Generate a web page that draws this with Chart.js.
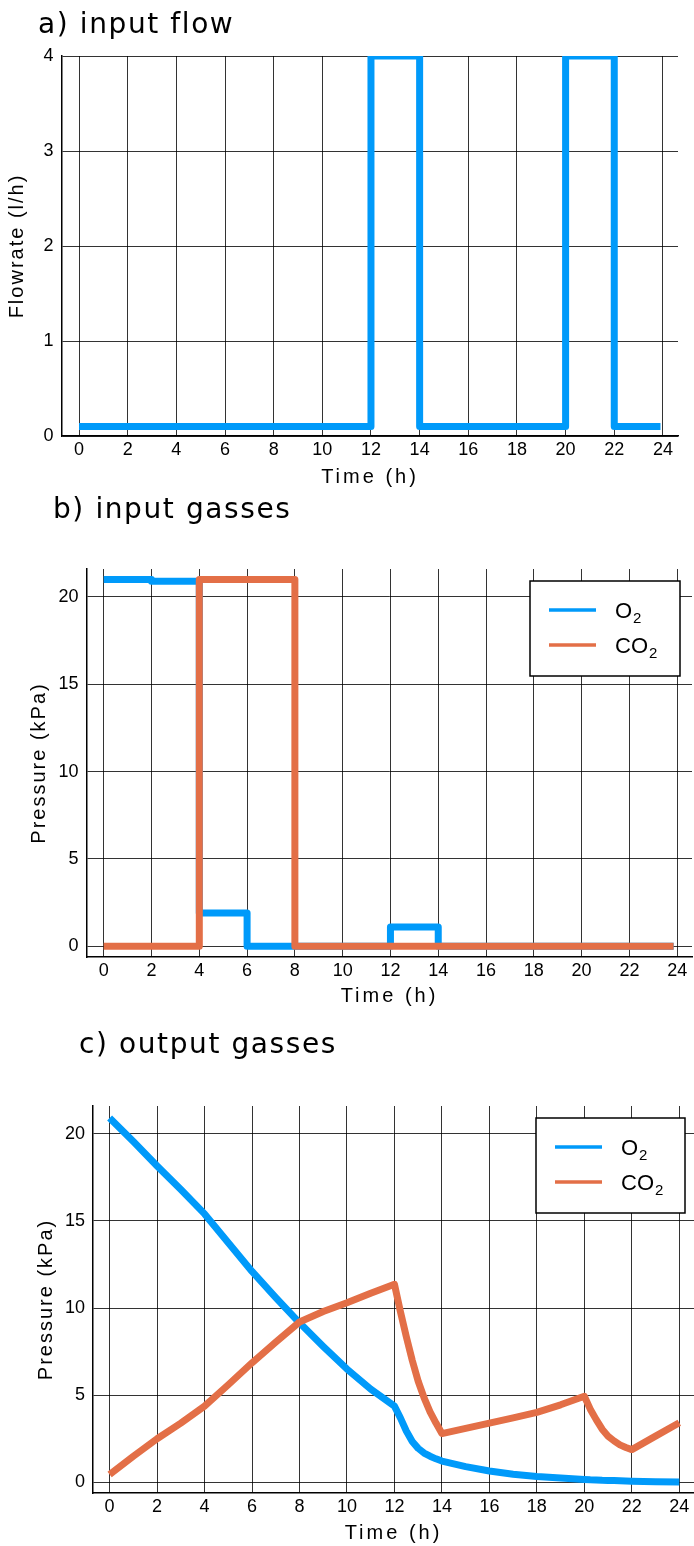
<!DOCTYPE html>
<html>
<head>
<meta charset="utf-8">
<script src="https://cdn.jsdelivr.net/npm/chart.js@4.4.1/dist/chart.umd.min.js"></script>
<style>
  html, body { margin: 0; padding: 0; background: #fff; }
  #page { position: relative; width: 694px; height: 1546px; overflow: hidden; }
  #page canvas { position: absolute; left: 0; }
  .panel-title {
    position: absolute; z-index: 2; color: #000; white-space: nowrap;
    font-family: 'DejaVu Sans'; font-size: 28px; line-height: 28px; letter-spacing: 1.6px;
  }
</style>
</head>
<body>
<div id="page">
  <canvas id="flowChart" width="694" height="500" style="top:0"></canvas>
  <canvas id="inputChart" width="694" height="520" style="top:500px"></canvas>
  <canvas id="outputChart" width="694" height="526" style="top:1020px"></canvas>
  <div class="panel-title" style="left:38px;top:9.6px">a) input flow</div>
  <div class="panel-title" style="left:53px;top:494.6px">b) input gasses</div>
  <div class="panel-title" style="left:79px;top:1029.6px">c) output gasses</div>
</div>
<script>
const BLUE = '#009AFA';
const ORANGE = '#E36F47';
const GRID = 'rgba(0,0,0,0.8)';

const TIME_TICKS = [0, 2, 4, 6, 8, 10, 12, 14, 16, 18, 20, 22, 24];
const FLOW_TICKS = [0, 1, 2, 3, 4];
const PRESSURE_TICKS = [0, 5, 10, 15, 20];

// a) input flow - each value holds until the next time
const FLOW_TIME = [0, 12, 14, 20, 22, 23.9];
const FLOW_RATE = [0.1, 4, 0.1, 4, 0.1, 0.1];

// b) input gasses - step values as well
const IN_TIME = [0, 2, 4, 6, 8, 12, 14, 23.85];
const IN_O2 = [21, 20.9, 1.9, 0, 0, 1.1, 0, 0];
const IN_CO2 = [0, 0, 21, 21, 0, 0, 0, 0];

// c) output gasses
const OUT_TIME = [0, 1, 2, 3, 4, 5, 6, 7, 8, 9, 10, 11, 12, 12.25, 12.5, 12.75, 13, 13.25, 13.5, 13.75, 14,
  15, 16, 17, 18, 19, 20, 20.25, 20.5, 20.75, 21, 21.25, 21.5, 21.75, 22, 23, 24];
const OUT_O2 = [20.9, 19.55, 18.15, 16.8, 15.4, 13.75, 12.1, 10.6, 9.15, 7.8, 6.5, 5.35, 4.37, 3.7, 2.95, 2.35, 1.95, 1.68, 1.5, 1.35, 1.22,
  0.9, 0.65, 0.47, 0.34, 0.25, 0.17, 0.15, 0.14, 0.12, 0.11, 0.1, 0.09, 0.08, 0.07, 0.04, 0.02];
const OUT_CO2 = [0.45, 1.5, 2.5, 3.4, 4.37, 5.6, 6.86, 8.05, 9.2, 9.8, 10.3, 10.85, 11.36, 9.8, 8.35, 7.0, 5.8, 4.85, 4.05, 3.4, 2.8,
  3.1, 3.4, 3.7, 4.02, 4.45, 4.94, 4.2, 3.6, 3.05, 2.65, 2.38, 2.15, 2.0, 1.88, 2.65, 3.42];

Chart.defaults.font.family = 'Liberation Sans';
Chart.defaults.color = '#000';

function points(xs, ys) {
  return xs.map((x, i) => ({ x, y: ys[i] }));
}

function series(label, xs, ys, color, extra = {}) {
  return Object.assign({
    label,
    data: points(xs, ys),
    borderColor: color,
    backgroundColor: color,
    borderWidth: 7,
    pointRadius: 0,
    tension: 0,
    fill: false,
    borderJoinStyle: 'round',
    borderCapStyle: 'butt'
  }, extra);
}

// axis titles in the reference are drawn with wide tracking
const spacedTitles = {
  id: 'spacedTitles',
  beforeDraw(chart) {
    Object.values(chart.scales).forEach(scale => {
      if (scale._spaced) return;
      const draw = scale.drawTitle.bind(scale);
      const spacing = scale.axis === 'x' ? '3px' : '2px';
      scale.drawTitle = () => {
        chart.ctx.save();
        chart.ctx.letterSpacing = spacing;
        draw();
        chart.ctx.restore();
      };
      scale._spaced = true;
    });
  }
};

// framed legend inside the plot, with subscript digits
const boxLegend = {
  id: 'boxLegend',
  afterDatasetsDraw(chart, args, opts) {
    const { ctx, chartArea } = chart;
    const x = chartArea.right - opts.right - opts.width;
    const y = chartArea.top + opts.top;
    ctx.save();
    ctx.fillStyle = '#fff';
    ctx.fillRect(x, y, opts.width, opts.height);
    ctx.strokeStyle = '#000';
    ctx.lineWidth = 1.5;
    ctx.strokeRect(x, y, opts.width, opts.height);
    chart.data.datasets.forEach((ds, i) => {
      const ly = y + 29 + i * 35;
      ctx.strokeStyle = ds.borderColor;
      ctx.lineWidth = 3.5;
      ctx.beginPath();
      ctx.moveTo(x + 19, ly);
      ctx.lineTo(x + 66, ly);
      ctx.stroke();
      const m = ds.label.match(/^(.*?)([\u2080-\u2089]*)$/);
      const base = m[1];
      const sub = m[2].split('').map(c => String.fromCharCode(c.charCodeAt(0) - 0x2080 + 48)).join('');
      ctx.fillStyle = '#000';
      ctx.textBaseline = 'alphabetic';
      ctx.textAlign = 'left';
      ctx.font = '22px "Liberation Sans"';
      ctx.fillText(base, x + 85, ly + 8);
      const w = ctx.measureText(base).width;
      ctx.font = '15px "Liberation Sans"';
      ctx.fillText(sub, x + 85 + w + 1, ly + 12.5);
    });
    ctx.restore();
  }
};

function makeChart(id, datasets, cfg) {
  const plugins = [spacedTitles];
  if (cfg.legend) plugins.push(boxLegend);
  return new Chart(document.getElementById(id), {
    type: 'line',
    data: { datasets },
    plugins,
    options: {
      responsive: false,
      maintainAspectRatio: false,
      animation: false,
      events: [],
      layout: { padding: cfg.padding },
      plugins: {
        legend: { display: false },
        tooltip: { enabled: false },
        title: { display: false },
        boxLegend: cfg.legend || {}
      },
      scales: {
        x: {
          type: 'linear',
          min: -0.7,
          max: 24.62,
          afterBuildTicks(scale) { scale.ticks = TIME_TICKS.map(value => ({ value })); },
          afterFit(scale) { scale.height = cfg.xHeight; },
          ticks: { autoSkip: false, maxRotation: 0, padding: 3, font: { size: 18 }, color: '#000' },
          grid: { color: GRID, lineWidth: 1, drawTicks: false },
          border: { display: true, color: '#000', width: 1.5 },
          title: {
            display: true, text: 'Time (h)', color: '#000',
            font: { size: 20 }, padding: { top: 0, bottom: cfg.xTitlePad }
          }
        },
        y: {
          type: 'linear',
          min: cfg.yMin,
          max: cfg.yMax,
          afterBuildTicks(scale) { scale.ticks = cfg.yTicks.map(value => ({ value })); },
          afterFit(scale) { scale.width = cfg.yWidth; },
          ticks: { padding: cfg.yTickPad, font: { size: 18 }, color: '#000' },
          grid: { color: GRID, lineWidth: 1, drawTicks: false },
          border: { display: true, color: '#000', width: 1.5 },
          title: {
            display: true, text: cfg.yTitle, color: '#000',
            font: { size: 20 }, padding: { top: cfg.yTitlePad, bottom: 0 }
          }
        }
      }
    }
  });
}

makeChart('flowChart', [
  series('flow', FLOW_TIME, FLOW_RATE, BLUE, { stepped: 'before' })
], {
  padding: { top: 56, right: 16, bottom: 0, left: 0 },
  xHeight: 64, yWidth: 62,
  yMin: 0, yMax: 4, yTicks: FLOW_TICKS,
  yTitle: 'Flowrate (l/h)', yTitlePad: 5, yTickPad: 8.5, xTitlePad: 10.5
});

makeChart('inputChart', [
  series('O\u2082', IN_TIME, IN_O2, BLUE, { stepped: 'before', order: 2 }),
  series('CO\u2082', IN_TIME, IN_CO2, ORANGE, { stepped: 'before', order: 1 })
], {
  padding: { top: 69, right: 2, bottom: 0, left: 0 },
  xHeight: 63, yWidth: 87,
  yMin: -0.62, yMax: 21.6, yTicks: PRESSURE_TICKS,
  yTitle: 'Pressure (kPa)', yTitlePad: 27, yTickPad: 8.5, xTitlePad: 11.7,
  legend: { right: 12, top: 12, width: 150, height: 95 }
});

makeChart('outputChart', [
  series('O\u2082', OUT_TIME, OUT_O2, BLUE, { order: 2 }),
  series('CO\u2082', OUT_TIME, OUT_CO2, ORANGE, { order: 1 })
], {
  padding: { top: 86, right: 0, bottom: 0, left: 0 },
  xHeight: 53, yWidth: 93,
  yMin: -0.61, yMax: 21.59, yTicks: PRESSURE_TICKS,
  yTitle: 'Pressure (kPa)', yTitlePad: 34, yTickPad: 8, xTitlePad: 0.7,
  legend: { right: 9, top: 12, width: 149, height: 95 }
});
</script>
</body>
</html>
